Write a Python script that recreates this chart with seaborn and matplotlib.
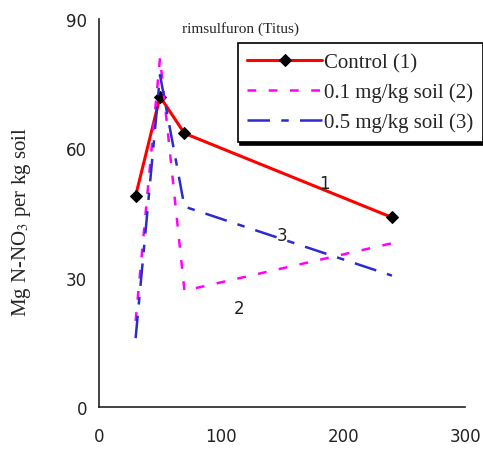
import matplotlib
matplotlib.use("Agg")
import matplotlib.pyplot as plt
import pandas as pd
import seaborn as sns

# Days after application and N-NO3 content for each treatment
days = [30, 50, 70, 240]
control = [49, 72, 63.5, 44]
dose_01 = [20, 81, 27, 38]
dose_05 = [16, 77, 46.5, 30.5]

labels = ["Control (1)", "0.1 mg/kg soil (2)", "0.5 mg/kg soil (3)"]
x_ticks = [0, 100, 200, 300]
y_ticks = [0, 30, 60, 90]

# curve numbers written next to the lines: (text, x, y)
curve_tags = [("1", 185, 52), ("3", 150, 40), ("2", 115, 23)]

sns.set_style("white")
plt.rcParams["mathtext.fontset"] = "stix"

df = pd.DataFrame({"day": days * 3,
                   "value": control + dose_01 + dose_05,
                   "treatment": sum([[lab] * len(days) for lab in labels], [])})

fig = plt.figure(figsize=(4.83, 4.56), dpi=100)
ax = fig.add_axes([0.205, 0.105, 0.758, 0.851])

styles = {
    labels[0]: dict(color="#ff0000", linewidth=2.2,
                    marker="D", markersize=6, markerfacecolor="black",
                    markeredgecolor="black"),
    labels[1]: dict(color="#ff00ff", linewidth=1.8),
    labels[2]: dict(color="#2b2bd0", linewidth=1.8),
}
dash_map = {labels[0]: None, labels[1]: (3.5, 5), labels[2]: (9, 4.5, 3, 4.5)}

for lab in labels:
    sub = df[df["treatment"] == lab]
    sns.lineplot(data=sub, x="day", y="value", ax=ax, sort=False,
                 estimator=None, label=lab, **styles[lab])
    if dash_map[lab] is not None:
        ax.lines[-1].set_dashes(dash_map[lab])

ax.set_xlim(0, 300)
ax.set_ylim(0, 90)
ax.set_xticks(x_ticks)
ax.set_yticks(y_ticks)
ax.tick_params(axis="x", direction="inout", length=8, width=1, labelsize=12, pad=10)
ax.tick_params(axis="y", direction="out", length=5, width=1, labelsize=12)
for t in ax.get_xticklabels() + ax.get_yticklabels():
    t.set_color("#222222")

for side in ["top", "right"]:
    ax.spines[side].set_visible(False)
for side in ["left", "bottom"]:
    ax.spines[side].set_color("#222222")
    ax.spines[side].set_linewidth(1.2)

ax.set_xlabel("")
ax.set_ylabel("Mg N-NO$_3$ per kg soil", fontsize=15, family="Liberation Serif")
ax.yaxis.set_label_coords(-0.18, 0.48)

ax.text(0.386, 0.995, "rimsulfuron (Titus)", transform=ax.transAxes,
        ha="center", va="top", fontsize=11, family="Liberation Serif")

for txt, xx, yy in curve_tags:
    ax.text(xx, yy, txt, fontsize=12, ha="center", va="center", color="#222222")

leg = ax.legend(loc="upper left", bbox_to_anchor=(0.492, 0.903),
                bbox_transform=fig.transFigure, borderaxespad=0,
                fancybox=False, shadow={"color": "black", "alpha": 1},
                prop={"family": "Liberation Serif", "size": 15},
                handlelength=3.6, handletextpad=0.1, labelspacing=0.5,
                borderpad=0.45, frameon=True)
leg.get_frame().set_edgecolor("black")
leg.get_frame().set_linewidth(1.2)
for h in leg.get_lines():
    lab = h.get_label()
    if dash_map.get(lab) is not None:
        h.set_dashes(dash_map[lab])

fig.savefig("out.png", dpi=100)
